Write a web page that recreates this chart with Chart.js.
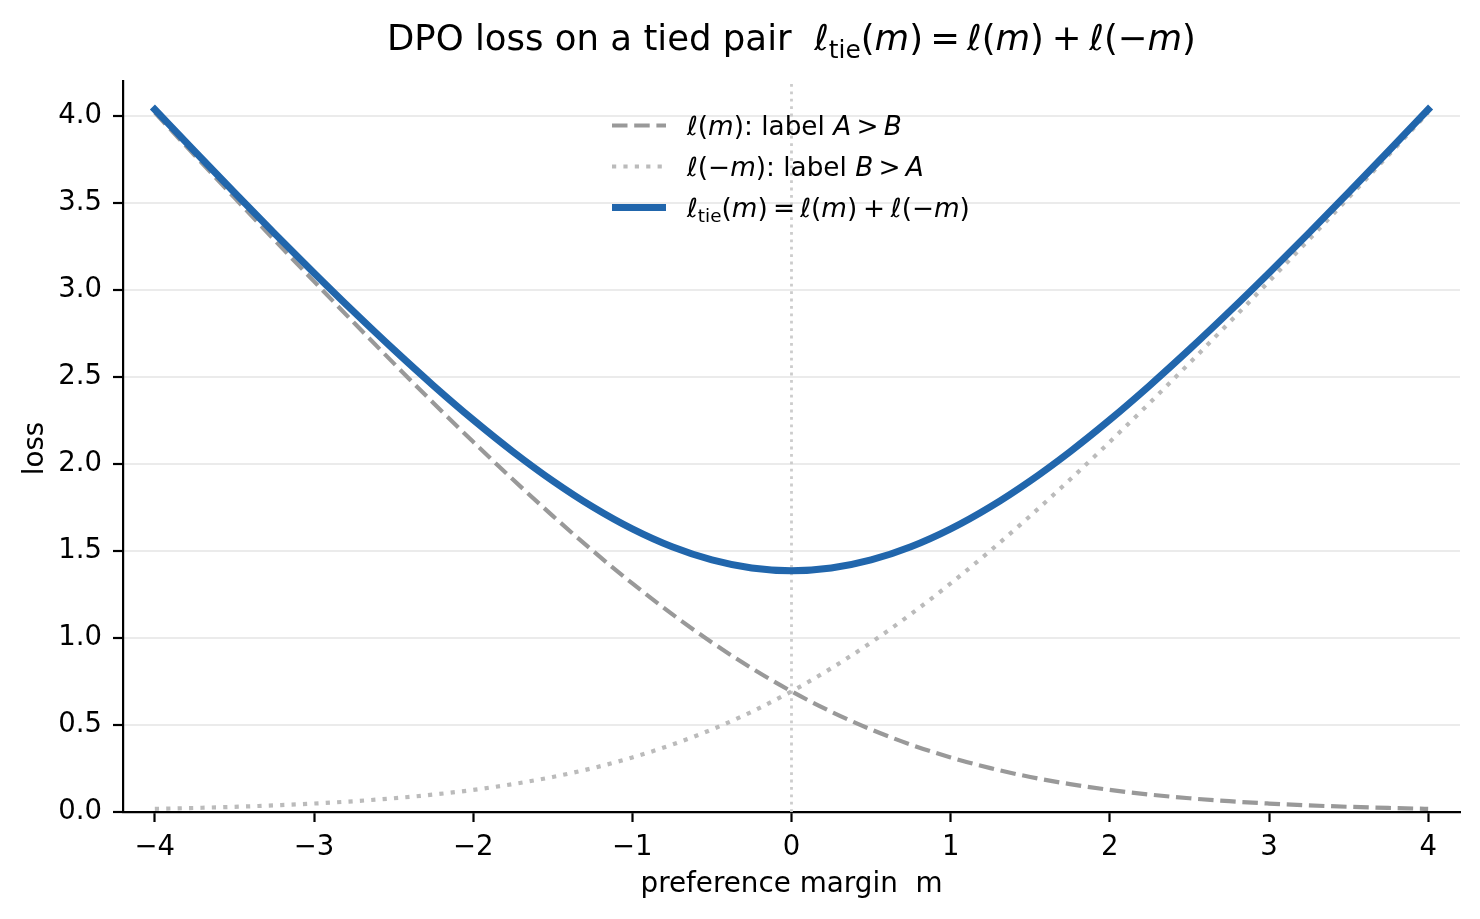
<!DOCTYPE html>
<html>
<head>
<meta charset="utf-8">
<script src="https://cdn.jsdelivr.net/npm/chart.js@4/dist/chart.umd.min.js"></script>
<style>
  html, body { margin: 0; padding: 0; background: #fff; }
  #wrap { width: 1480px; height: 919px; }
</style>
</head>
<body>
<div id="wrap"><canvas id="c" width="1480" height="919" style="width:1480px;height:919px"></canvas></div>
<script>
// ---- data ----
const marginM = [-4, -3.75, -3.5, -3.25, -3, -2.75, -2.5, -2.25, -2, -1.75, -1.5, -1.25, -1, -0.75, -0.5, -0.25, 0,
                 0.25, 0.5, 0.75, 1, 1.25, 1.5, 1.75, 2, 2.25, 2.5, 2.75, 3, 3.25, 3.5, 3.75, 4];
const lossAB = [4.0181, 3.7733, 3.5297, 3.2880, 3.0486, 2.8120, 2.5789, 2.3502, 2.1269, 1.9102, 1.7014, 1.5019, 1.3133,
                1.1369, 0.9741, 0.8259, 0.6931, 0.5759, 0.4741, 0.3869, 0.3133, 0.2519, 0.2014, 0.1602, 0.1269, 0.1002,
                0.0789, 0.0620, 0.0486, 0.0381, 0.0298, 0.0233, 0.0181];
const lossBA = [0.0181, 0.0233, 0.0298, 0.0381, 0.0486, 0.0620, 0.0789, 0.1002, 0.1269, 0.1602, 0.2014, 0.2519, 0.3133,
                0.3869, 0.4741, 0.5759, 0.6931, 0.8259, 0.9741, 1.1369, 1.3133, 1.5019, 1.7014, 1.9102, 2.1269, 2.3502,
                2.5789, 2.8120, 3.0486, 3.2880, 3.5297, 3.7733, 4.0181];
const lossTie = [4.0362, 3.7966, 3.5595, 3.3261, 3.0972, 2.8740, 2.6578, 2.4504, 2.2538, 2.0704, 1.9028, 1.7538, 1.6266,
                 1.5238, 1.4482, 1.4018, 1.3863, 1.4018, 1.4482, 1.5238, 1.6266, 1.7538, 1.9028, 2.0704, 2.2538, 2.4504,
                 2.6578, 2.8740, 3.0972, 3.3261, 3.5595, 3.7966, 4.0362];
const xTickValues = [-4, -3, -2, -1, 0, 1, 2, 3, 4];
const yTickValues = [0, 0.5, 1, 1.5, 2, 2.5, 3, 3.5, 4];
const xLimits = [-4.2, 4.2];
const yLimits = [0, 4.2];
const refLineX = 0;
const xAxisTitle = 'preference margin  m';
const yAxisTitle = 'loss';

// ---- styling ----
const FONT = '"DejaVu Sans", "Noto Sans", sans-serif';
const BLUE = '#2166ac';
const DASH_GREY = '#999999';
const DOT_GREY = '#bbbbbb';

const pts = (ys) => marginM.map((m, i) => ({ x: m, y: ys[i] }));

// rich text segments: {t, i: italic, sub: subscript, g: gap in em}
function ellM(neg) {
  const s = [{ t: 'ℓ', i: 1 }, { t: '(' }];
  if (neg) s.push({ t: '−' });
  s.push({ t: 'm', i: 1 }, { t: ')' });
  return s;
}
const tieFormula = [{ t: 'ℓ', i: 1 }, { t: 'tie', sub: 1 }, { t: '(' }, { t: 'm', i: 1 }, { t: ')' },
  { g: 0.2 }, { t: '=' }, { g: 0.2 }, ...ellM(false), { g: 0.22 }, { t: '+' }, { g: 0.22 }, ...ellM(true)];
const titleSegs = [{ t: 'DPO loss on a tied pair  ' }, ...tieFormula];
const legendItems = [
  { segs: [...ellM(false), { t: ': label ' }, { t: 'A', i: 1 }, { g: 0.2 }, { t: '>' }, { g: 0.2 }, { t: 'B', i: 1 }],
    color: DASH_GREY, width: 4.2, dash: [15.5, 6.7] },
  { segs: [...ellM(true), { t: ': label ' }, { t: 'B', i: 1 }, { g: 0.2 }, { t: '>' }, { g: 0.2 }, { t: 'A', i: 1 }],
    color: DOT_GREY, width: 4.2, dash: [4.2, 7.2] },
  { segs: tieFormula, color: BLUE, width: 7, dash: [] }
];

function segFont(s, size) {
  const sz = s.sub ? size * 0.7 : size;
  return (s.i ? 'italic ' : '') + sz + 'px ' + FONT;
}
function measureRich(ctx, segs, size) {
  let w = 0;
  for (const s of segs) {
    if (s.g) { w += s.g * size; continue; }
    ctx.font = segFont(s, size);
    w += ctx.measureText(s.t).width;
  }
  return w;
}
function drawRich(ctx, segs, x, y, size, align) {
  const total = measureRich(ctx, segs, size);
  let cx = align === 'center' ? x - total / 2 : x;
  ctx.textBaseline = 'alphabetic';
  ctx.textAlign = 'left';
  ctx.fillStyle = '#000';
  for (const s of segs) {
    if (s.g) { cx += s.g * size; continue; }
    ctx.font = segFont(s, size);
    ctx.fillText(s.t, cx, y + (s.sub ? size * 0.22 : 0));
    cx += ctx.measureText(s.t).width;
  }
}

const decorPlugin = {
  id: 'decor',
  beforeDatasetsDraw(chart) {
    const { ctx, chartArea, scales } = chart;
    const px = scales.x.getPixelForValue(refLineX);
    ctx.save();
    ctx.strokeStyle = '#cccccc';
    ctx.lineWidth = 2.8;
    ctx.setLineDash([2.8, 4.6]);
    ctx.beginPath();
    ctx.moveTo(px, chartArea.bottom);
    ctx.lineTo(px, chartArea.top);
    ctx.stroke();
    ctx.restore();
  },
  afterDraw(chart) {
    const { ctx, chartArea } = chart;
    ctx.save();
    const cxm = (chartArea.left + chartArea.right) / 2;
    // title
    drawRich(ctx, titleSegs, cxm, 50, 35.5, 'center');
    // axis titles
    ctx.fillStyle = '#000';
    ctx.font = '27.8px ' + FONT;
    ctx.textAlign = 'center';
    ctx.textBaseline = 'alphabetic';
    ctx.fillText(xAxisTitle, cxm, 892);
    ctx.save();
    ctx.translate(43, (chartArea.top + chartArea.bottom) / 2 + 2);
    ctx.rotate(-Math.PI / 2);
    ctx.fillText(yAxisTitle, 0, 0);
    ctx.restore();
    // legend
    const handleX0 = 612, handleX1 = 666, textX = 687;
    legendItems.forEach((it, k) => {
      const hy = 125.5 + k * 41;
      ctx.save();
      ctx.strokeStyle = it.color;
      ctx.lineWidth = it.width;
      ctx.setLineDash(it.dash);
      ctx.lineCap = 'butt';
      ctx.beginPath();
      ctx.moveTo(handleX0, hy);
      ctx.lineTo(handleX1, hy);
      ctx.stroke();
      ctx.restore();
      drawRich(ctx, it.segs, textX, hy + 9, 26.3, 'left');
    });
    ctx.restore();
  }
};

const fmtX = (v) => (v < 0 ? '\u2212' + Math.abs(v) : String(v));

new Chart(document.getElementById('c'), {
  type: 'line',
  data: {
    datasets: [
      { label: 'tie', data: pts(lossTie), borderColor: BLUE, borderWidth: 7, borderCapStyle: 'square',
        borderJoinStyle: 'round', pointRadius: 0, cubicInterpolationMode: 'monotone', fill: false, order: 1 },
      { label: 'A>B', data: pts(lossAB), borderColor: DASH_GREY, borderWidth: 4.2, borderDash: [15.5, 6.7],
        borderCapStyle: 'butt', pointRadius: 0, cubicInterpolationMode: 'monotone', fill: false, order: 2 },
      { label: 'B>A', data: pts(lossBA), borderColor: DOT_GREY, borderWidth: 4.2, borderDash: [4.2, 7.2],
        borderCapStyle: 'butt', pointRadius: 0, cubicInterpolationMode: 'monotone', fill: false, order: 3 }
    ]
  },
  options: {
    responsive: false,
    devicePixelRatio: 1,
    animation: false,
    events: [],
    layout: { padding: { top: 81, right: 20, bottom: 0, left: 0 } },
    plugins: { legend: { display: false }, title: { display: false }, tooltip: { enabled: false } },
    scales: {
      x: {
        type: 'linear', min: xLimits[0], max: xLimits[1],
        afterBuildTicks: (s) => { s.ticks = xTickValues.map((v) => ({ value: v })); },
        afterFit: (s) => { s.height = 107; },
        grid: { drawOnChartArea: false, drawTicks: true, tickLength: 10, tickWidth: 2.2, tickColor: '#000' },
        border: { display: true, color: '#000', width: 2.2 },
        ticks: { color: '#000', font: { family: FONT, size: 27.5 }, padding: 9, maxRotation: 0, autoSkip: false,
          callback: (v) => fmtX(v) }
      },
      y: {
        type: 'linear', min: yLimits[0], max: yLimits[1],
        afterBuildTicks: (s) => { s.ticks = yTickValues.map((v) => ({ value: v })); },
        afterFit: (s) => { s.width = 123; },
        grid: { drawOnChartArea: true, color: '#ebebeb', lineWidth: 2, drawTicks: true, tickLength: 10,
          tickWidth: 2.2, tickColor: '#000' },
        border: { display: true, color: '#000', width: 2.2 },
        ticks: { color: '#000', font: { family: FONT, size: 27.5 }, padding: 11, autoSkip: false,
          callback: (v) => Number(v).toFixed(1) }
      }
    }
  },
  plugins: [decorPlugin]
});
</script>
</body>
</html>
